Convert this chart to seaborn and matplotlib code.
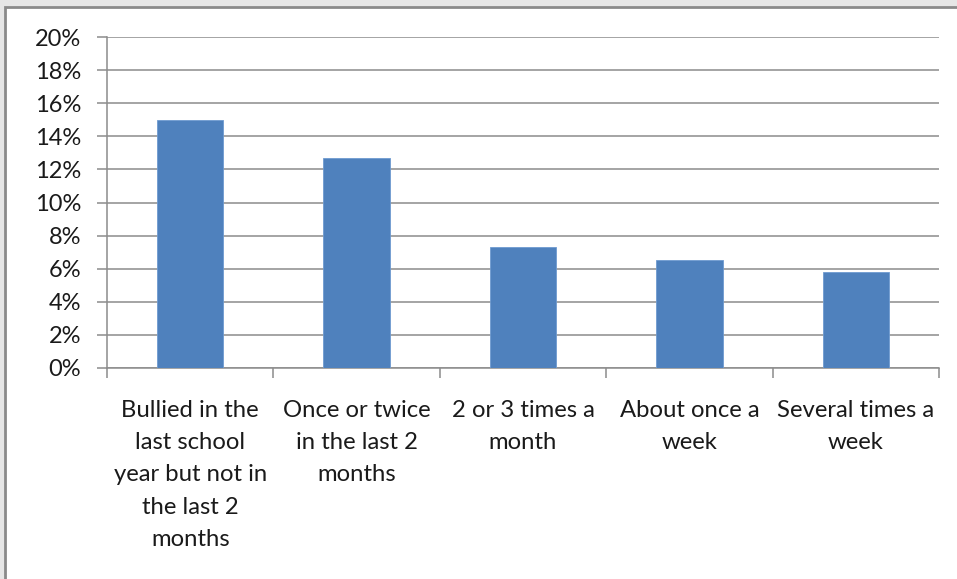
import seaborn as sns
import matplotlib.pyplot as plt
from matplotlib.patches import Rectangle
from matplotlib.ticker import PercentFormatter, FixedLocator

sns.set_theme(style="white")
plt.rcParams['font.family'] = ['Lato', 'DejaVu Sans']

# data (percent)
categories = ['Bullied in the\nlast school\nyear but not in\nthe last 2\nmonths',
              'Once or twice\nin the last 2\nmonths',
              '2 or 3 times a\nmonth',
              'About once a\nweek',
              'Several times a\nweek']
values = [15.0, 12.7, 7.3, 6.5, 5.8]
y_ticks = [0, 2, 4, 6, 8, 10, 12, 14, 16, 18, 20]

fig = plt.figure(figsize=(9.57, 5.79), dpi=100, facecolor='#e6e6e6')
# white chart area with grey frame, like the screenshot
frame = Rectangle((5 / 957, -0.01), 1.0, 1 - 7 / 579 + 0.01,
                  transform=fig.transFigure, facecolor='white',
                  edgecolor='#8a8a8a', linewidth=2, zorder=-10)
fig.add_artist(frame)
ax = fig.add_axes([107 / 957, 1 - 368 / 579, 832 / 957, 331 / 579])
ax.set_facecolor('none')

sns.barplot(x=categories, y=values, color='#4F81BD', width=0.4,
            saturation=1, edgecolor='#6f9bd0', linewidth=0.6, ax=ax, zorder=3)

ax.set_xlim(-0.5, 4.5)
ax.set_ylim(0, 20)
ax.set_yticks(y_ticks)
ax.yaxis.set_major_formatter(PercentFormatter(decimals=0))
ax.grid(axis='y', color='#8c8c8c', linewidth=1.1, zorder=0)

for s in ['top', 'right']:
    ax.spines[s].set_visible(False)
for s in ['left', 'bottom']:
    ax.spines[s].set_color('#8c8c8c')
    ax.spines[s].set_linewidth(1.1)

# ticks at category boundaries on x, labels centred under bars
ax.xaxis.set_minor_locator(FixedLocator([-0.5, 0.5, 1.5, 2.5, 3.5, 4.5]))
ax.tick_params(axis='x', which='minor', length=7.5, width=1.1, color='#8c8c8c', bottom=True)
ax.tick_params(axis='x', which='major', length=0, pad=23, labelsize=17.2, labelcolor='#1a1a1a')
ax.tick_params(axis='y', length=7.5, width=1.1, color='#8c8c8c', left=True, pad=11,
               labelsize=17, labelcolor='#1a1a1a')
for lbl in ax.get_xticklabels():
    lbl.set_linespacing(1.66)
    lbl.set_ha('center')
    lbl.set_va('top')

ax.set_xlabel('')
ax.set_ylabel('')
fig.savefig('out.png', dpi=100, facecolor=fig.get_facecolor())
